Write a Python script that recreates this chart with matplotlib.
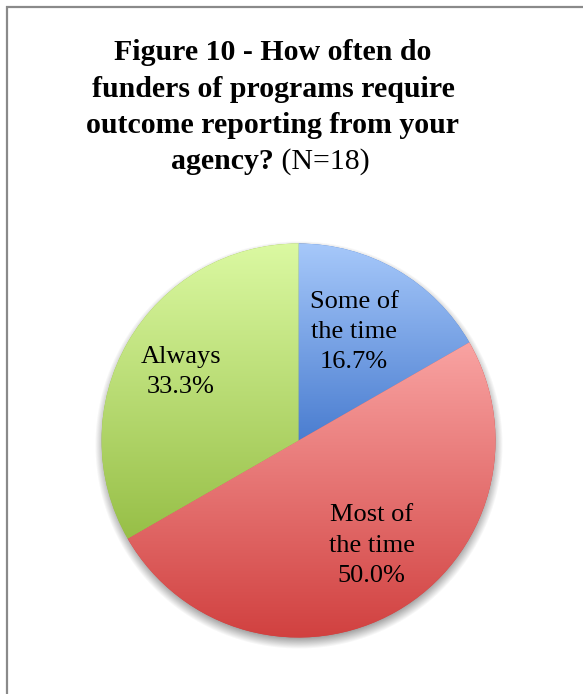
import matplotlib.pyplot as plt
import numpy as np
from matplotlib.colors import LinearSegmentedColormap

# survey answers, N=18
categories = ["Some of\nthe time", "Most of\nthe time", "Always"]
percents = [16.7, 50.0, 33.3]
top_colors = ["#a6c8fa", "#f9a3a2", "#dbf9a2"]
bottom_colors = ["#4a7dd0", "#d03f3e", "#97bf47"]
title_lines = ["Figure 10 - How often do", "funders of programs require",
               "outcome reporting from your"]

W, H = 583, 694
fig = plt.figure(figsize=(W / 100, H / 100), dpi=100)
ax = fig.add_axes([0, 0, 1, 1])

cx, cy, R = 298.5, H - 440.5, 197

# soft shadow under the pie
yy, xx = np.mgrid[0:H, 0:W]
d = np.hypot(xx - cx, (H - yy) - (cy - 4))
alpha = np.clip((R + 7 - d) / 11, 0, 1) * 0.55
shadow = np.zeros((H, W, 4))
shadow[..., :3] = 0.35
shadow[..., 3] = alpha
ax.imshow(shadow, extent=(0, W, 0, H), origin="upper", zorder=0.5)

wedges, _ = ax.pie(percents, center=(cx, cy), radius=R, startangle=90,
                   counterclock=False, colors=bottom_colors,
                   wedgeprops=dict(linewidth=0))

# vertical gradient fill in each slice
grad = np.linspace(1, 0, 256).reshape(-1, 1)
for w, c_top, c_bot in zip(wedges, top_colors, bottom_colors):
    v = w.get_path().vertices
    y0, y1 = v[:, 1].min(), v[:, 1].max()
    cmap = LinearSegmentedColormap.from_list("g", [c_bot, c_top])
    im = ax.imshow(grad, cmap=cmap, extent=(cx - R, cx + R, y0, y1),
                   aspect="auto", zorder=2)
    im.set_clip_path(w)

# slice labels
label_dist = [0.62, 0.65, 0.69]
label_shift = [3, 5, 0]
for w, name, p, f, s in zip(wedges, categories, percents, label_dist, label_shift):
    ang = np.deg2rad((w.theta1 + w.theta2) / 2 + s)
    ax.text(cx + f * R * np.cos(ang), cy + f * R * np.sin(ang),
            f"{name}\n{p:.1f}%", ha="center", va="center", fontsize=19,
            family="Liberation Serif", linespacing=1.48, zorder=3)

ax.set_xlim(0, W)
ax.set_ylim(0, H)
ax.axis("off")

# title
tfont = dict(family="Liberation Serif", fontsize=21.5)
for i, line in enumerate(title_lines):
    ax.text(273, H - 60 - 36.5 * i, line, ha="center", va="baseline",
            fontweight="bold", **tfont)
fig.canvas.draw()
r = fig.canvas.get_renderer()
t1 = ax.text(0, H - 169, "agency?", ha="left", va="baseline", fontweight="bold", **tfont)
t2 = ax.text(0, H - 169, " (N=18)", ha="left", va="baseline", **tfont)
w1 = t1.get_window_extent(r).width
w2 = t2.get_window_extent(r).width
x0 = 270 - (w1 + w2) / 2
t1.set_x(x0)
t2.set_x(x0 + w1)

# frame lines on the left and top
ax.plot([7, 7], [0, H - 6], color="#8a8a8a", lw=1.6, solid_capstyle="butt")
ax.plot([6, W], [H - 7, H - 7], color="#8a8a8a", lw=1.6, solid_capstyle="butt")

plt.savefig("out.png", dpi=100)
